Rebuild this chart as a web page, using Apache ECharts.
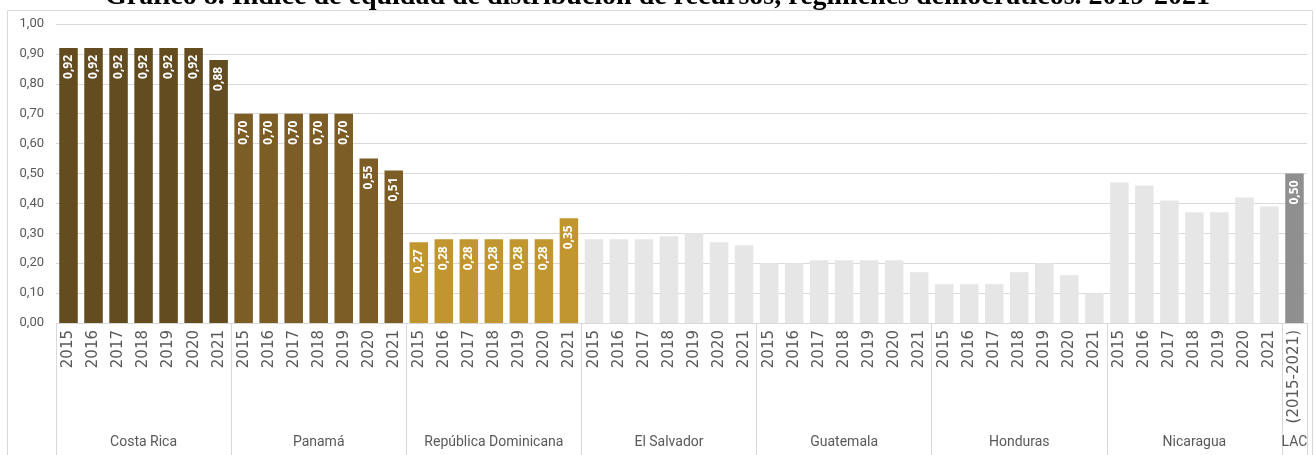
<!DOCTYPE html>
<html>
<head>
<meta charset="utf-8">
<style>
  html, body { margin: 0; padding: 0; background: #ffffff; }
  #chart { width: 1315px; height: 455px; }
</style>
<script src="https://cdn.jsdelivr.net/npm/echarts@6/dist/echarts.min.js"></script>
</head>
<body>
<div id="chart"></div>
<script>
// Índice de equidad de distribución de recursos por país y año
const years = ['2015', '2016', '2017', '2018', '2019', '2020', '2021'];
const countries = ['Costa Rica', 'Panamá', 'República Dominicana', 'El Salvador', 'Guatemala', 'Honduras', 'Nicaragua'];
const costaRica   = [0.92, 0.92, 0.92, 0.92, 0.92, 0.92, 0.88];
const panama      = [0.70, 0.70, 0.70, 0.70, 0.70, 0.55, 0.51];
const repDom      = [0.27, 0.28, 0.28, 0.28, 0.28, 0.28, 0.35];
const elSalvador  = [0.28, 0.28, 0.28, 0.29, 0.30, 0.27, 0.26];
const guatemala   = [0.20, 0.20, 0.21, 0.21, 0.21, 0.21, 0.17];
const honduras    = [0.13, 0.13, 0.13, 0.17, 0.20, 0.16, 0.10];
const nicaragua   = [0.47, 0.46, 0.41, 0.37, 0.37, 0.42, 0.39];
const lacName = 'LAC';
const lacPeriod = '(2015-2021)';
const lacValue = 0.50;
const yTicks = [0, 0.1, 0.2, 0.3, 0.4, 0.5, 0.6, 0.7, 0.8, 0.9, 1.0];

const countrySeries = [costaRica, panama, repDom, elSalvador, guatemala, honduras, nicaragua];
const countryColors = ['#634c1f', '#7d5d26', '#c2962f', '#e6e6e6', '#e6e6e6', '#e6e6e6', '#e6e6e6'];
const countryLabelled = [true, true, true, false, false, false, false];
const lacColor = '#8f8f90';

const fmt = v => v.toFixed(2).replace('.', ',');

// flatten into one category axis: 7 years per country + LAC average
const yearAxis = [];
const groupAxis = [];
const barData = [];
countries.forEach((c, gi) => {
  years.forEach((y, yi) => {
    yearAxis.push(y);
    groupAxis.push(c);
    barData.push({
      value: countrySeries[gi][yi],
      itemStyle: { color: countryColors[gi] },
      label: { show: countryLabelled[gi] }
    });
  });
});
yearAxis.push(lacPeriod);
groupAxis.push(lacName);
barData.push({ value: lacValue, itemStyle: { color: lacColor }, label: { show: true } });

const lastIdx = barData.length - 1;
const groupSize = years.length;

const chart = echarts.init(document.getElementById('chart'), null, { renderer: 'canvas' });
chart.setOption({
  animation: false,
  backgroundColor: '#ffffff',
  title: {
    text: 'Gráfico 8. Índice de equidad de distribución de recursos, regímenes democráticos. 2019-2021',
    left: 'center',
    top: -17,
    padding: 0,
    textStyle: {
      fontFamily: '"Liberation Serif", "Times New Roman", serif',
      fontWeight: 'bold',
      fontSize: 28,
      lineHeight: 28,
      color: '#000000'
    }
  },
  graphic: [{
    type: 'rect',
    z: -10,
    silent: true,
    shape: { x: 7.5, y: 10.5, width: 1305, height: 455 },
    style: { fill: 'none', stroke: '#d9d9d9', lineWidth: 1 }
  }],
  grid: { left: 56, right: 8, top: 24, bottom: 132, containLabel: false },
  xAxis: [{
    type: 'category',
    data: yearAxis,
    position: 'bottom',
    axisLine: { show: true, lineStyle: { color: '#d9d9d9', width: 1 } },
    axisTick: { show: false },
    axisLabel: {
      interval: 0,
      rotate: 90,
      margin: 7,
      color: '#595959',
      fontFamily: '"DejaVu Sans", sans-serif',
      fontSize: 15
    }
  }, {
    type: 'category',
    data: groupAxis,
    position: 'bottom',
    offset: 0,
    axisLine: { show: false },
    axisTick: {
      show: true,
      length: 135,
      interval: (i) => i % groupSize === 0 || i === lastIdx,
      lineStyle: { color: '#d9d9d9', width: 1 }
    },
    axisLabel: {
      interval: (i) => i % groupSize === 3 || i === lastIdx,
      margin: 112,
      color: '#595959',
      fontFamily: 'Roboto, sans-serif',
      fontSize: 14
    }
  }],
  yAxis: {
    type: 'value',
    min: yTicks[0],
    max: yTicks[yTicks.length - 1],
    interval: 0.1,
    axisLine: { show: false },
    axisTick: { show: false },
    splitLine: { show: true, lineStyle: { color: '#d9d9d9', width: 1 } },
    axisLabel: {
      margin: 12,
      color: '#595959',
      fontFamily: 'Roboto, sans-serif',
      fontSize: 13,
      formatter: v => fmt(v)
    }
  },
  series: [{
    type: 'bar',
    xAxisIndex: 0,
    data: barData,
    barCategoryGap: '26%',
    label: {
      show: false,
      position: 'insideTop',
      rotate: 90,
      align: 'right',
      verticalAlign: 'middle',
      distance: 7,
      color: '#ffffff',
      fontFamily: '"Open Sans", sans-serif',
      fontWeight: 'bold',
      fontSize: 12,
      formatter: p => fmt(p.value)
    }
  }]
});
</script>
</body>
</html>
